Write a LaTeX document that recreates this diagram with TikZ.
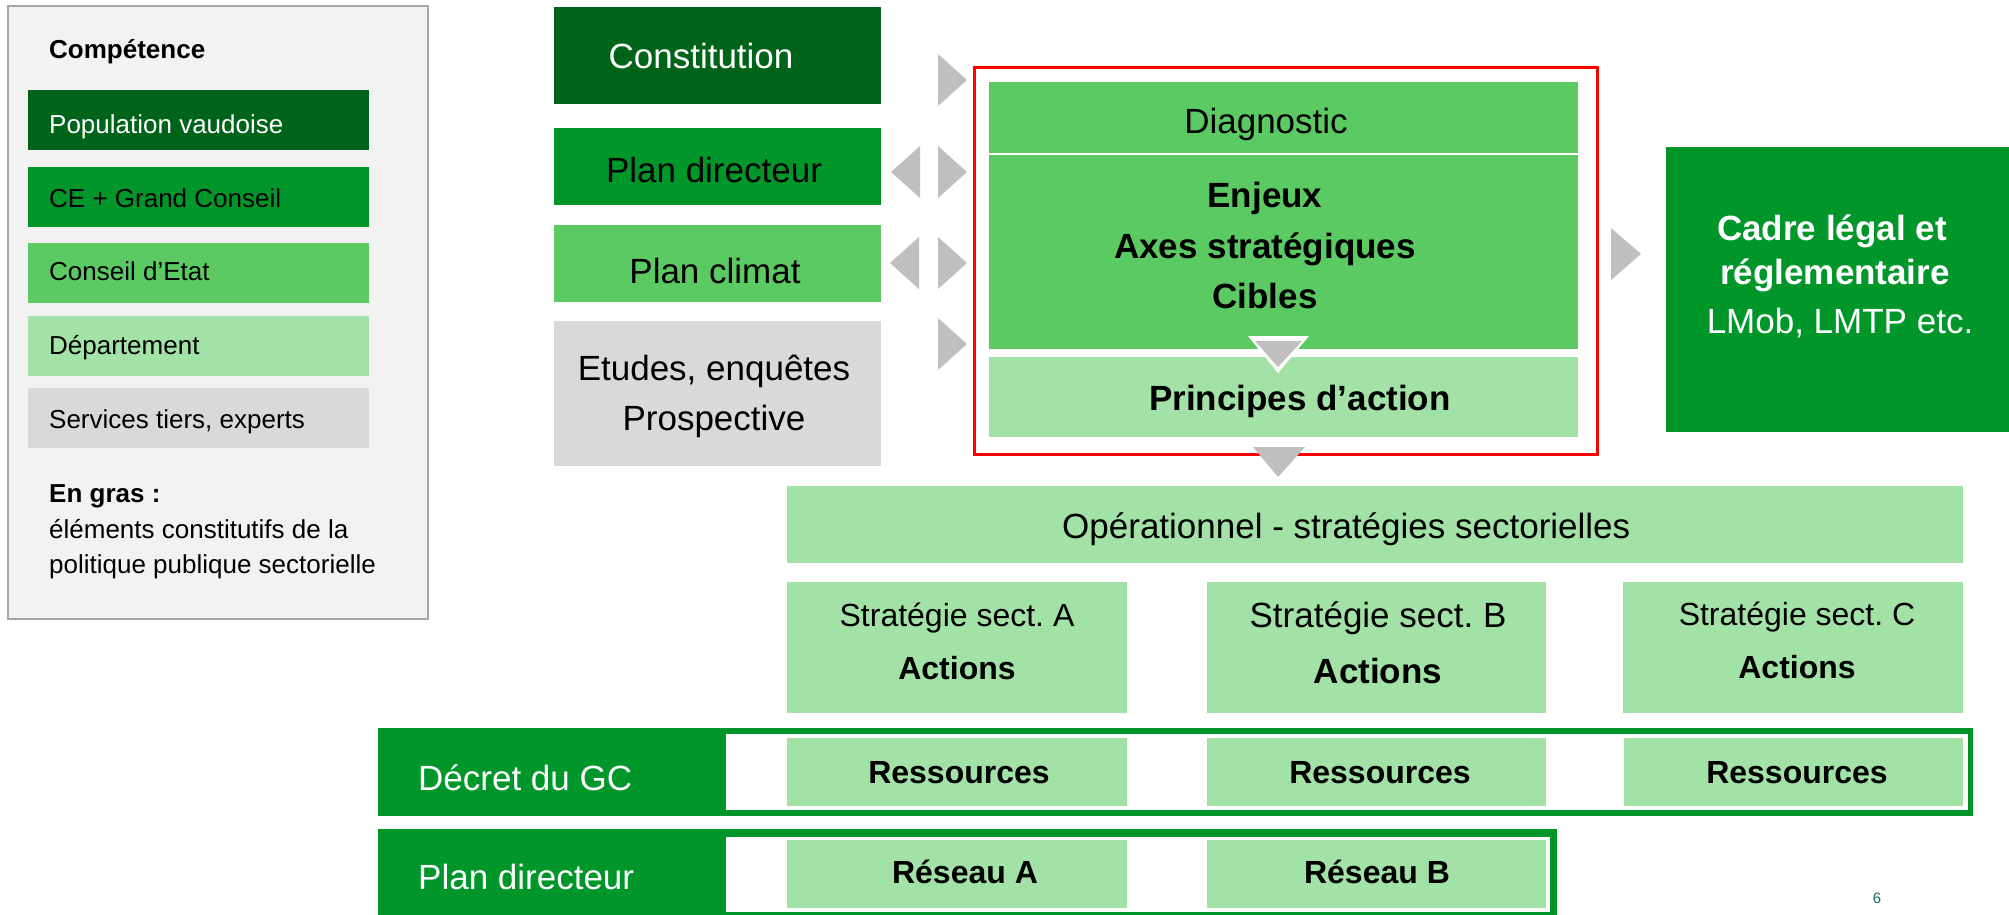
\documentclass[tikz,border=0pt]{standalone}
\usepackage{fontspec}
\setmainfont{Liberation Sans}
\frenchspacing
\definecolor{darkg}{HTML}{00631A}
\definecolor{midg}{HTML}{00962A}
\definecolor{lightg}{HTML}{5BCA63}
\definecolor{paleg}{HTML}{A3E2A6}
\definecolor{grayc}{HTML}{D9D9D9}
\definecolor{trig}{HTML}{BFBFBF}
\definecolor{legbg}{HTML}{F2F2F2}
\definecolor{legbd}{HTML}{A6A6A6}
\definecolor{pagec}{HTML}{1D6A6A}
\begin{document}
\begin{tikzpicture}[x=1pt,y=-1pt,
  bx/.style={inner sep=0pt,outer sep=0pt,anchor=north west,draw=none},
  fleg/.style={font=\fontsize{26}{31}\selectfont},
  flegb/.style={font=\bfseries\fontsize{26}{31}\selectfont},
  fbig/.style={font=\fontsize{35}{42}\selectfont},
  fbigb/.style={font=\bfseries\fontsize{35}{42}\selectfont},
  fmid/.style={font=\fontsize{32}{38}\selectfont},
  fmidb/.style={font=\bfseries\fontsize{32}{38}\selectfont},
  tb/.style={inner sep=0pt,anchor=base},
  tbw/.style={inner sep=0pt,anchor=base west},
  tri/.style={fill=trig,draw=none}]
\useasboundingbox (0,0) rectangle (2009,914);
\newcommand{\bxn}[6]{\node[bx,fill=#2,minimum width=#5,minimum height=#6] (#1) at (#3,#4) {};}
% legend
\node[bx,fill=legbg,draw=legbd,line width=1.5pt,minimum width=420,minimum height=613] (leg) at (8,6) {};
\bxn{lpop}{darkg}{28}{90}{341}{60}
\bxn{lce}{midg}{28}{167}{341}{60}
\bxn{lcde}{lightg}{28}{243}{341}{60}
\bxn{ldep}{paleg}{28}{316}{341}{60}
\bxn{lsrv}{grayc}{28}{388}{341}{60}
\node[tbw,flegb] (tcomp) at (49,58) {Compétence};
\node[tbw,fleg,text=white] (tpop) at (49,133) {Population vaudoise};
\node[tbw,fleg] (tce) at (49,207) {CE + Grand Conseil};
\node[tbw,fleg] (tcde) at (49,280) {Conseil d’Etat};
\node[tbw,fleg] (tdep) at (49,354) {Département};
\node[tbw,fleg] (tsrv) at (49,428) {Services tiers, experts};
\node[tbw,flegb] (tgras) at (49,502) {En gras :};
\node[tbw,fleg] (tel1) at (49,538) {éléments constitutifs de la};
\node[tbw,fleg] (tel2) at (49,573) {politique publique sectorielle};
% left column
\bxn{const}{darkg}{554}{7}{327}{97}
\bxn{pdir}{midg}{554}{128}{327}{77}
\bxn{pclim}{lightg}{554}{225}{327}{77}
\bxn{etud}{grayc}{554}{321}{327}{145}
\node[tb,fbig,text=white] (tconst) at (701,68) {Constitution};
\node[tb,fbig] (tpdir) at (714,182) {Plan directeur};
\node[tb,fbig] (tpclim) at (715,283) {Plan climat};
\node[tb,fbig] (tetud1) at (714,380) {Etudes, enquêtes};
\node[tb,fbig] (tetud2) at (714,430) {Prospective};
% triangles
\newcommand{\rtri}[2]{\fill[tri] (#1,#2-26) -- (#1+29,#2) -- (#1,#2+26) -- cycle;}
\newcommand{\ltri}[2]{\fill[tri] (#1,#2-26) -- (#1-29,#2) -- (#1,#2+26) -- cycle;}
\rtri{938}{80}
\rtri{938}{172}
\ltri{920}{172}
\rtri{938}{263}
\ltri{919}{263}
\rtri{938}{344}
\fill[tri] (1611,228) -- (1641,254) -- (1611,280) -- cycle;
% central block
\node[bx,draw=red,line width=3pt,minimum width=623,minimum height=387] (redbox) at (974,67) {};
\bxn{diag}{lightg}{989}{82}{589}{71}
\bxn{enj}{lightg}{989}{155}{589}{194}
\bxn{princ}{paleg}{989}{357}{589}{80}
\fill[white] (1248,336) -- (1309,336) -- (1278,373) -- cycle;
\fill[tri] (1255,341) -- (1302,341) -- (1278,367) -- cycle;
\node[tb,fbig] (tdiag) at (1266,133) {Diagnostic};
\node[tb,fbigb] (tenj) at (1265,207) {Enjeux};
\node[tb,fbigb] (taxes) at (1265,258) {Axes stratégiques};
\node[tb,fbigb] (tcib) at (1265,308) {Cibles};
\node[tb,fbigb] (tprinc) at (1300,410) {Principes d’action};
\fill[tri] (1253,447) -- (1305,447) -- (1278,477) -- cycle;
% cadre legal
\bxn{cadre}{midg}{1666}{147}{343}{285}
\node[tb,fbigb,text=white] (tcad1) at (1832,240) {Cadre légal et};
\node[tb,fbigb,text=white] (tcad2) at (1835,284) {réglementaire};
\node[tb,fbig,text=white] (tcad3) at (1840,333) {LMob, LMTP etc.};
% operational
\bxn{oper}{paleg}{787}{486}{1176}{77}
\node[tbw,fbig] (toper) at (1062,538) {Opérationnel - stratégies sectorielles};
\bxn{sA}{paleg}{787}{582}{340}{131}
\bxn{sB}{paleg}{1207}{582}{339}{131}
\bxn{sC}{paleg}{1623}{582}{340}{131}
\node[tb,fmid] (tsA) at (957,626) {Stratégie sect. A};
\node[tb,fmidb] (taA) at (957,679) {Actions};
\node[tb,fbig] (tsB) at (1378,627) {Stratégie sect. B};
\node[tb,fbigb] (taB) at (1378,683) {Actions};
\node[tb,fmid] (tsC) at (1797,625) {Stratégie sect. C};
\node[tb,fmidb] (taC) at (1797,678) {Actions};
% decret band
\bxn{decband}{midg}{378}{728}{1595}{88}
\bxn{decwhite}{white}{726}{734}{1242}{76}
\bxn{rA}{paleg}{787}{738}{340}{68}
\bxn{rB}{paleg}{1207}{738}{339}{68}
\bxn{rC}{paleg}{1624}{738}{339}{68}
\node[tbw,fbig,text=white] (tdec) at (418,790) {Décret du GC};
\node[tb,fmidb] (trA) at (959,783) {Ressources};
\node[tb,fmidb] (trB) at (1380,783) {Ressources};
\node[tb,fmidb] (trC) at (1797,783) {Ressources};
% plan directeur band
\bxn{pdband}{midg}{378}{829}{1179}{90}
\bxn{pdwhite}{white}{726}{837}{824}{75}
\bxn{nA}{paleg}{787}{840}{340}{68}
\bxn{nB}{paleg}{1207}{840}{339}{68}
\node[tbw,fbig,text=white] (tpd2) at (418,889) {Plan directeur};
\node[tb,fmidb] (tnA) at (965,883) {Réseau A};
\node[tb,fmidb] (tnB) at (1377,883) {Réseau B};
\node[tb,font=\fontsize{15}{18}\selectfont,text=pagec] (pnum) at (1877,903) {6};
\end{tikzpicture}
\end{document}
